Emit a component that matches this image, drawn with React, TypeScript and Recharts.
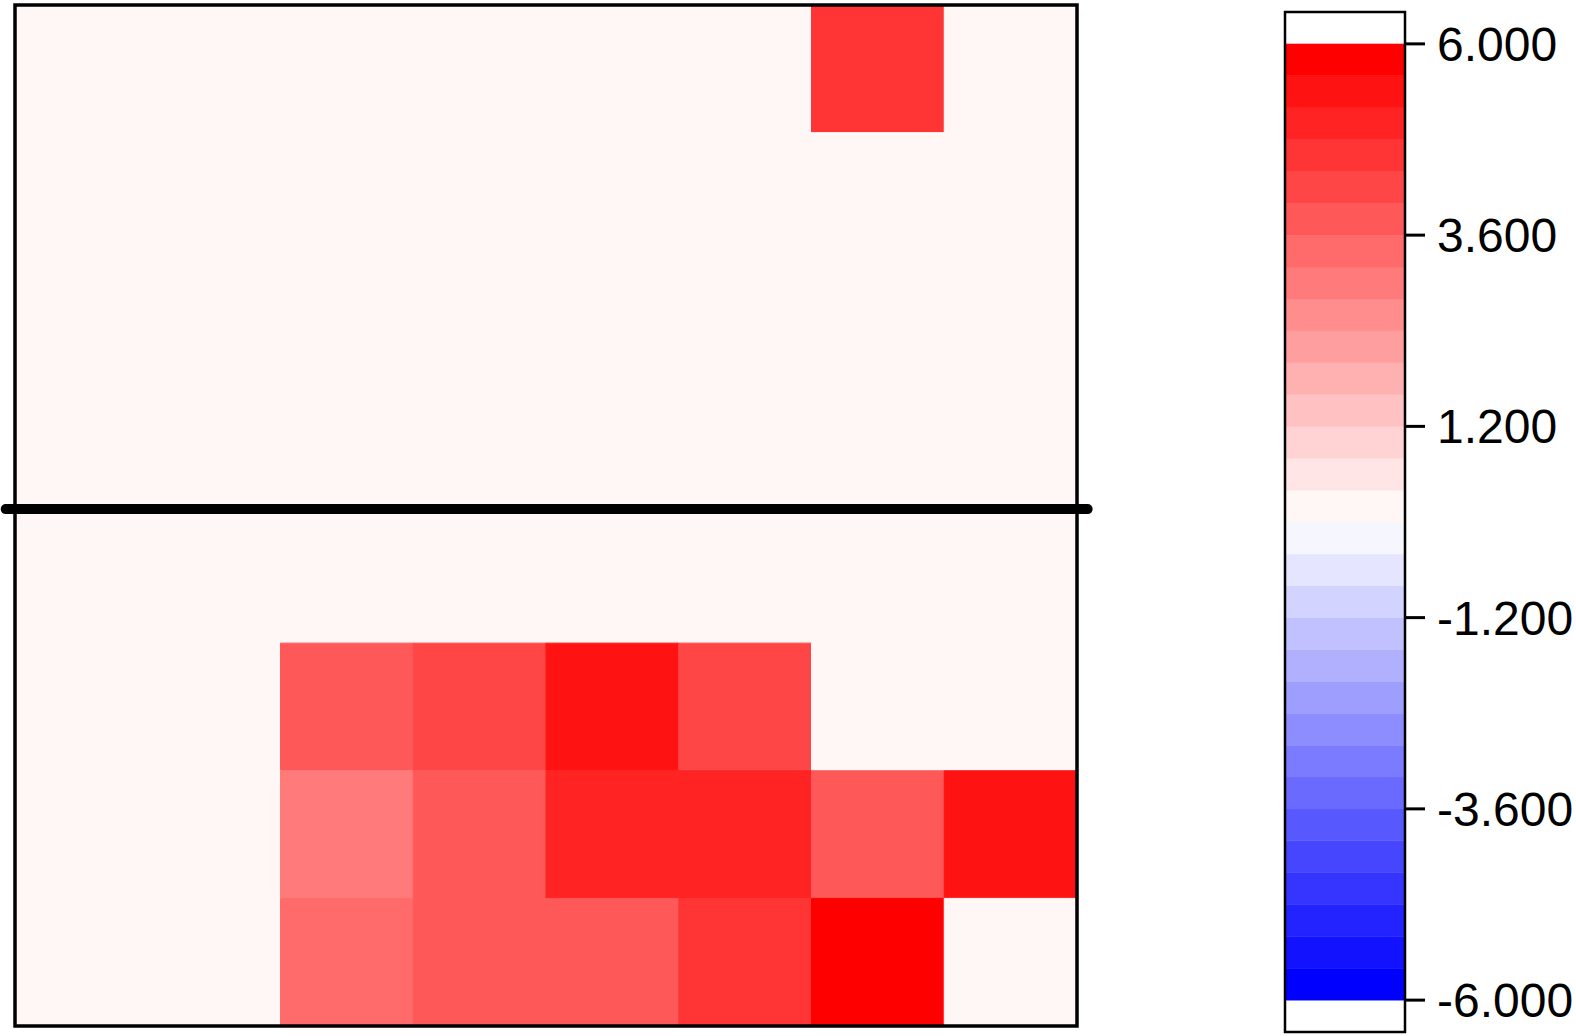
// App.tsx - 8x8 heat map with divider line and stepped colour bar
import React from 'react'
import { ComposedChart, XAxis, YAxis, ReferenceArea, ReferenceLine } from 'recharts'

// cell values, row 0 is the top row
const ROW_0 = [0, 0, 0, 0, 0, 0, 4.6, 0]
const ROW_1 = [0, 0, 0, 0, 0, 0, 0, 0]
const ROW_2 = [0, 0, 0, 0, 0, 0, 0, 0]
const ROW_3 = [0, 0, 0, 0, 0, 0, 0, 0]
const ROW_4 = [0, 0, 0, 0, 0, 0, 0, 0]
const ROW_5 = [0, 0, 3.8, 4.2, 5.4, 4.2, 0, 0]
const ROW_6 = [0, 0, 3.0, 3.8, 5.0, 5.0, 3.8, 5.4]
const ROW_7 = [0, 0, 3.4, 3.8, 3.8, 4.6, 5.8, 0]
const ROWS = [ROW_0, ROW_1, ROW_2, ROW_3, ROW_4, ROW_5, ROW_6, ROW_7]

// horizontal divider, in row units from the top
const DIVIDER_ROW = 3.95

// colour bar breaks (blue -> white -> red, 30 steps)
const BREAKS = [
  -6, -5.6, -5.2, -4.8, -4.4, -4, -3.6, -3.2, -2.8, -2.4, -2, -1.6, -1.2, -0.8, -0.4, 0,
  0.4, 0.8, 1.2, 1.6, 2, 2.4, 2.8, 3.2, 3.6, 4, 4.4, 4.8, 5.2, 5.6, 6,
]
const PALETTE = [
  '#0000ff', '#1212ff', '#2323ff', '#3535ff', '#4646ff', '#5858ff', '#6a6aff', '#7b7bff',
  '#8d8dff', '#9e9eff', '#b0b0ff', '#c1c1ff', '#d3d3ff', '#e5e5ff', '#f6f6ff',
  '#fff6f6', '#ffe5e5', '#ffd3d3', '#ffc1c1', '#ffb0b0', '#ff9e9e', '#ff8d8d', '#ff7b7b',
  '#ff6a6a', '#ff5858', '#ff4646', '#ff3535', '#ff2323', '#ff1212', '#ff0000',
]
const BAR_TICKS = [6, 3.6, 1.2, -1.2, -3.6, -6]

const FONT = '"Liberation Sans", Arial, Helvetica, sans-serif'

const colorFor = (v: number) => {
  let i = 0
  while (i < PALETTE.length - 1 && v >= BREAKS[i + 1]) i++
  return PALETTE[i]
}

export default function App() {
  const nRows = ROWS.length
  const nCols = ROWS[0].length

  return (
    <div style={{ position: 'relative', width: 1576, height: 1036, fontFamily: FONT }}>
      <style>{'body{margin:0}'}</style>

      {/* heat map */}
      <div style={{ position: 'absolute', left: 0, top: 0 }}>
        <ComposedChart
          width={1100}
          height={1036}
          margin={{ top: 5, right: 23, bottom: 10, left: 15 }}
          style={{ overflow: 'visible' }}
        >
          <XAxis type="number" dataKey="x" domain={[0, nCols]} hide allowDataOverflow />
          <YAxis type="number" dataKey="y" domain={[0, nRows]} reversed hide allowDataOverflow />
          {ROWS.map((row, r) =>
            row.map((v, c) => (
              <ReferenceArea
                key={`cell-${r}-${c}`}
                x1={c}
                x2={c + 1}
                y1={r}
                y2={r + 1}
                fill={colorFor(v)}
                fillOpacity={1}
                stroke={colorFor(v)}
                strokeWidth={1}
              />
            ))
          )}
          <ReferenceArea
            x1={0}
            x2={nCols}
            y1={0}
            y2={nRows}
            fill="none"
            stroke="#000"
            strokeWidth={3.5}
            ifOverflow="visible"
          />
          <ReferenceLine
            segment={[{ x: -0.07, y: DIVIDER_ROW }, { x: nCols + 0.08, y: DIVIDER_ROW }]}
            stroke="#000"
            strokeWidth={10}
            strokeLinecap="round"
            ifOverflow="visible"
          />
        </ComposedChart>
      </div>

      {/* colour bar */}
      <div style={{ position: 'absolute', left: 1240, top: 0 }}>
        <ComposedChart
          width={336}
          height={1036}
          margin={{ top: 12, right: 0, bottom: 4, left: 45 }}
          style={{ overflow: 'visible' }}
        >
          <XAxis type="number" dataKey="x" domain={[0, 1]} hide allowDataOverflow />
          <YAxis
            type="number"
            dataKey="y"
            orientation="right"
            width={171}
            domain={[-6.4, 6.4]}
            ticks={BAR_TICKS}
            interval={0}
            allowDataOverflow
            axisLine={false}
            tickLine={{ stroke: '#000', strokeWidth: 3 }}
            tickSize={20}
            tickMargin={12}
            tickFormatter={(v: number) => v.toFixed(3)}
            tick={{ fill: '#000', fontSize: 48, fontFamily: FONT }}
          />
          {PALETTE.map((col, i) => (
            <ReferenceArea
              key={`band-${i}`}
              x1={0}
              x2={1}
              y1={BREAKS[i]}
              y2={BREAKS[i + 1]}
              fill={col}
              fillOpacity={1}
              stroke={col}
              strokeWidth={0.5}
            />
          ))}
          <ReferenceArea
            x1={0}
            x2={1}
            y1={-6.4}
            y2={6.4}
            fill="none"
            stroke="#000"
            strokeWidth={2.5}
            ifOverflow="visible"
          />
        </ComposedChart>
      </div>
    </div>
  )
}
